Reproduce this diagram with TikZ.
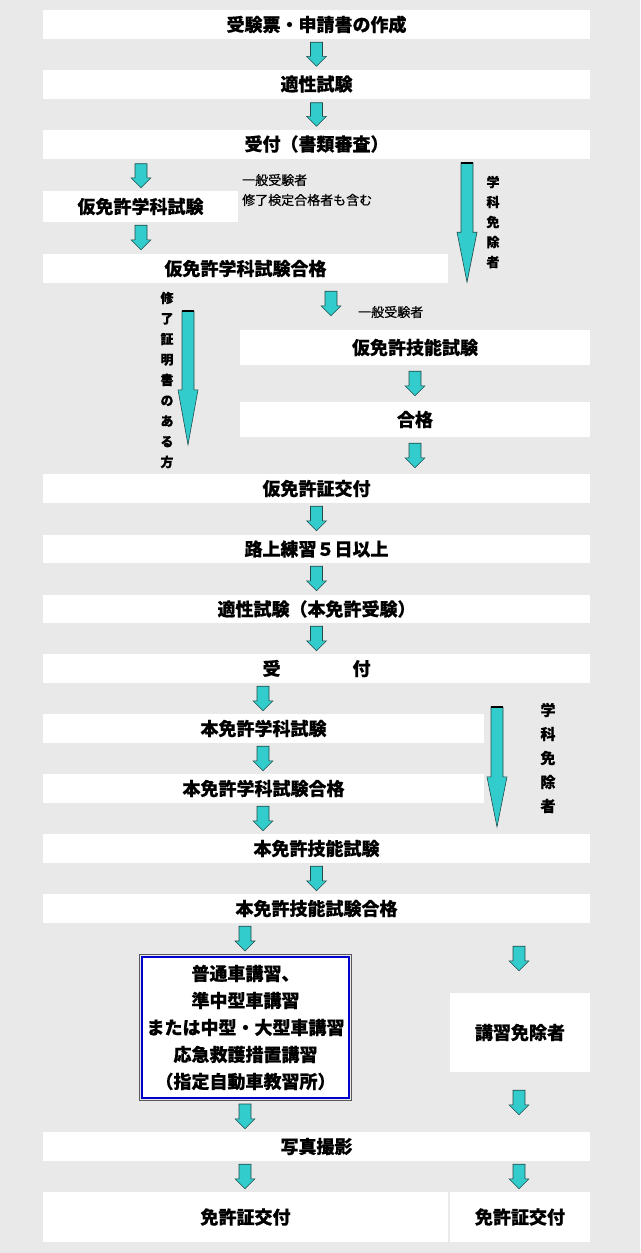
\documentclass[tikz,border=0pt]{standalone}
\usepackage{fontspec}
\setmainfont{Noto Sans CJK JP}[BoldFeatures={FakeBold=0.35}]
\newfontfamily\notefont{Noto Sans CJK JP}[FakeBold=0.5]
\usetikzlibrary{calc}
\definecolor{bg}{RGB}{233,233,233}
\definecolor{turq}{RGB}{51,204,204}
\definecolor{arrline}{RGB}{35,75,75}
\definecolor{bblue}{RGB}{0,0,204}
\tikzset{
  box/.style={fill=white, inner sep=0pt, font=\bfseries\fontsize{18}{21}\selectfont},
  note/.style={inner sep=0pt, anchor=west, font=\notefont\fontsize{13}{16}\selectfont},
  vtext/.style={inner sep=0pt, align=center, font=\bfseries\fontsize{13}{#1}\selectfont},
  blockarr/.style={fill=turq, draw=arrline, line width=0.6pt, line join=miter,
    to path={let \p1=(\tikztostart), \p2=(\tikztotarget) in
      (\x1-6pt,\y1) -- (\x1+6pt,\y1) -- (\x1+6pt,\y2+#1) -- (\x1+10pt,\y2+#1)
      -- (\x1,\y2) -- (\x1-10pt,\y2+#1) -- (\x1-6pt,\y2+#1) -- cycle}},
  blockarr/.default=10pt,
  topbar/.style={line width=2pt, draw=black}
}
\begin{document}
\begin{tikzpicture}[x=1pt,y=-1pt]
\fill[bg] (0,0) rectangle (640,1253);
\useasboundingbox (0,0) rectangle (640,1253);
% column coordinates
\coordinate (cA) at (141,0);
\coordinate (cB) at (331,0);
\coordinate (cC) at (415,0);
\coordinate (cD) at (263,0);
\coordinate (cE) at (245,0);
\coordinate (cF) at (519,0);
\coordinate (cR1) at (467,0);
\coordinate (cL1) at (188,0);
\coordinate (cR2) at (497,0);
% boxes
\node[box, minimum width=547pt, minimum height=29pt] (b1) at (316.5,24.5) {受験票・申請書の作成};
\node[box, minimum width=547pt, minimum height=29pt] (b2) at (316.5,84) {適性試験};
\node[box, minimum width=547pt, minimum height=29pt] (b3) at (316.5,144) {受付（書類審査）};
\node[box, minimum width=195pt, minimum height=31pt] (b4) at (140.5,206.5) {仮免許学科試験};
\node[box, minimum width=405pt, minimum height=29pt] (b5) at (245.5,268.5) {仮免許学科試験合格};
\node[box, minimum width=350pt, minimum height=35pt] (b6) at (415,347.5) {仮免許技能試験};
\node[box, minimum width=350pt, minimum height=35pt] (b7) at (415,419.5) {合格};
\node[box, minimum width=547pt, minimum height=29pt] (b8) at (316.5,488.5) {仮免許証交付};
\node[box, minimum width=547pt, minimum height=28pt] (b9) at (316.5,549) {路上練習５日以上};
\node[box, minimum width=547pt, minimum height=28pt] (b10) at (316.5,609) {適性試験（本免許受験）};
\node[box, minimum width=547pt, minimum height=29pt] (b11) at (316.5,668.5) {受　　　　付};
\node[box, minimum width=441pt, minimum height=29pt] (b12) at (263.5,728.5) {本免許学科試験};
\node[box, minimum width=441pt, minimum height=29pt] (b13) at (263.5,788.5) {本免許学科試験合格};
\node[box, minimum width=547pt, minimum height=29pt] (b14) at (316.5,848.5) {本免許技能試験};
\node[box, minimum width=547pt, minimum height=29pt] (b15) at (316.5,908.5) {本免許技能試験合格};
\node[box, draw=bblue, line width=2pt, minimum width=207pt, minimum height=141pt, align=center,
      font=\bfseries\fontsize{18}{27}\selectfont] (b16) at (245.5,1027.5)
      {普通車講習、\\準中型車講習\\または中型・大型車講習\\応急救護措置講習\\（指定自動車教習所）};
\draw[gray!70!black, line width=0.6pt] ($(b16.north west)+(-1.3,-1.3)$) rectangle ($(b16.south east)+(1.3,1.3)$);
\node[box, minimum width=140pt, minimum height=79pt] (b17) at (520,1032.5) {講習免除者};
\node[box, minimum width=547pt, minimum height=29pt] (b18) at (316.5,1146.5) {写真撮影};
\node[box, minimum width=405pt, minimum height=50pt] (b19) at (245.5,1217) {免許証交付};
\node[box, minimum width=140pt, minimum height=50pt] (b20) at (520,1217) {免許証交付};
% notes
\node[note] (n1) at (242,180) {一般受験者};
\node[note] (n2) at (242,200) {修了検定合格者も含む};
\node[note] (n3) at (358,312) {一般受験者};
\node[vtext=20pt] (v1) at (493,222) {学\\科\\免\\除\\者};
\node[vtext=20.5pt] (v2) at (167,380) {修\\了\\証\\明\\書\\の\\あ\\る\\方};
\node[inner sep=0pt, align=center, font=\bfseries\fontsize{15}{24}\selectfont] (v3) at (548,758) {学\\科\\免\\除\\者};
% small block arrows
\draw[blockarr] ($(b1.south)+(0,3)$) to ($(b2.north)+(0,-3)$);
\draw[blockarr] ($(b2.south)+(0,4)$) to ($(b3.north)+(0,-3)$);
\draw[blockarr] ($(b3.south -| cA)+(0,5)$) to ($(b4.north -| cA)+(0,-3)$);
\draw[blockarr] ($(b4.south -| cA)+(0,3)$) to ($(b5.north -| cA)+(0,-4)$);
\draw[blockarr] ($(b5.south -| cB)+(0,8)$) to ($(b6.north -| cB)+(0,-14)$);
\draw[blockarr] ($(b6.south -| cC)+(0,6)$) to ($(b7.north -| cC)+(0,-6)$);
\draw[blockarr] ($(b7.south -| cC)+(0,6)$) to ($(b8.north -| cC)+(0,-6)$);
\draw[blockarr] ($(b8.south)+(0,3)$) to ($(b9.north)+(0,-4)$);
\draw[blockarr] ($(b9.south)+(0,3)$) to ($(b10.north)+(0,-4)$);
\draw[blockarr] ($(b10.south)+(0,3)$) to ($(b11.north)+(0,-3)$);
\draw[blockarr] ($(b11.south -| cD)+(0,3)$) to ($(b12.north -| cD)+(0,-3)$);
\draw[blockarr] ($(b12.south -| cD)+(0,3)$) to ($(b13.north -| cD)+(0,-3)$);
\draw[blockarr] ($(b13.south -| cD)+(0,3)$) to ($(b14.north -| cD)+(0,-3)$);
\draw[blockarr] ($(b14.south)+(0,3)$) to ($(b15.north)+(0,-3)$);
\draw[blockarr] ($(b15.south -| cE)+(0,3)$) to ($(b16.north -| cE)+(0,-5)$);
\draw[blockarr] ($(b15.south -| cF)+(0,23)$) to ($(b17.north -| cF)+(0,-22)$);
\draw[blockarr] ($(b16.south -| cE)+(0,5)$) to ($(b18.north -| cE)+(0,-3)$);
\draw[blockarr] ($(b17.south -| cF)+(0,18)$) to ($(b18.north -| cF)+(0,-17)$);
\draw[blockarr] ($(b18.south -| cE)+(0,3)$) to ($(b19.north -| cE)+(0,-3)$);
\draw[blockarr] ($(b18.south -| cF)+(0,3)$) to ($(b20.north -| cF)+(0,-3)$);
% long block arrows
\coordinate (k1s) at ($(b3.south -| cR1)+(0,4)$);
\coordinate (k1e) at ($(b5.south -| cR1)+(0,-1)$);
\draw[blockarr=50pt] (k1s) to (k1e);
\draw[topbar] ($(k1s)+(-6,0)$) -- ($(k1s)+(6,0)$);
\coordinate (k2s) at ($(b5.south -| cL1)+(0,28)$);
\coordinate (k2e) at ($(b8.north -| cL1)+(0,-29)$);
\draw[blockarr=55pt] (k2s) to (k2e);
\draw[topbar] ($(k2s)+(-6,0)$) -- ($(k2s)+(6,0)$);
\coordinate (k3s) at ($(b11.south -| cR2)+(0,24)$);
\coordinate (k3e) at ($(b14.north -| cR2)+(0,-7)$);
\draw[blockarr=50pt] (k3s) to (k3e);
\draw[topbar] ($(k3s)+(-6,0)$) -- ($(k3s)+(6,0)$);
\end{tikzpicture}
\end{document}
